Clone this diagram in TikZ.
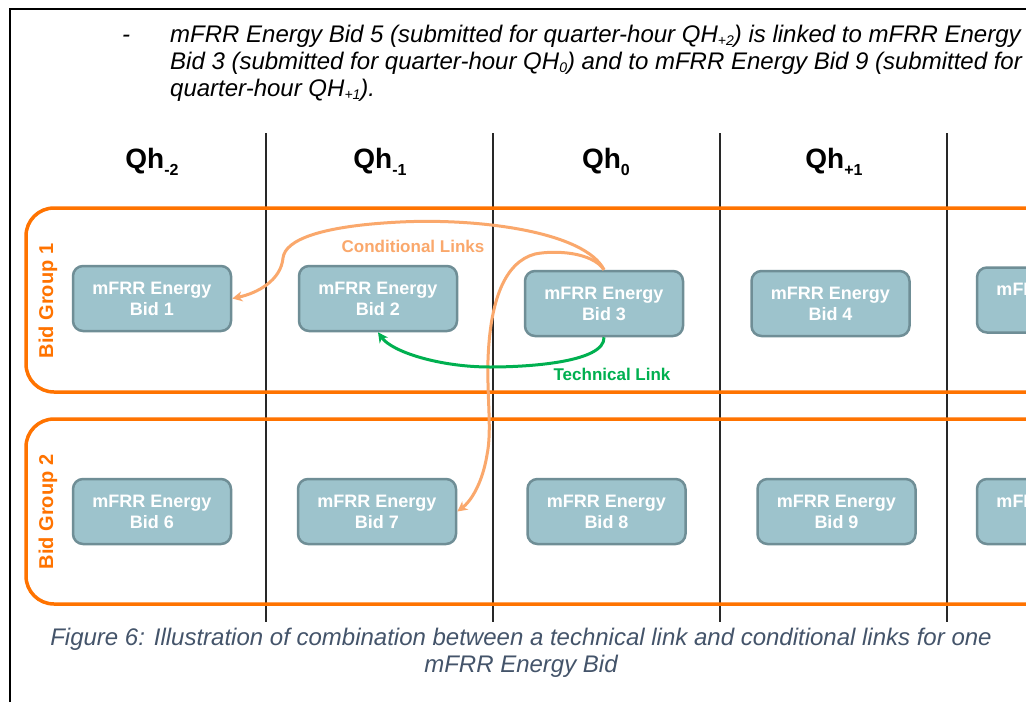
\documentclass[tikz,border=0pt]{standalone}
\usepackage{fontspec}
\setmainfont{Liberation Sans}
\usetikzlibrary{arrows.meta}
\definecolor{grporange}{RGB}{255,115,0}
\definecolor{condorange}{RGB}{250,168,108}
\definecolor{techgreen}{RGB}{0,176,80}
\definecolor{bidfill}{RGB}{157,195,204}
\definecolor{bidedge}{RGB}{111,142,150}
\definecolor{captioncol}{RGB}{68,84,106}
\definecolor{colline}{RGB}{40,40,40}
\newcommand{\myfs}[2]{\fontsize{#1}{#2}\selectfont}
\newcommand{\qhlabel}[1]{Qh\raisebox{-7pt}{\myfs{16}{16}#1}}
\newcommand{\qhsub}[1]{QH\raisebox{-3pt}{\myfs{14}{14}#1}}
\begin{document}
\begin{tikzpicture}[x=1pt,y=-1pt,
  bidbox/.style={draw=bidedge, fill=bidfill, line width=2.5pt, rounded corners=10pt,
    minimum width=158pt, minimum height=65pt, inner sep=0pt, text=white,
    font=\bfseries\myfs{18}{21}, align=center},
  grpbox/.style={draw=grporange, line width=3.5pt, rounded corners=28pt},
  grplabel/.style={text=grporange, font=\bfseries\myfs{20}{20}, rotate=90, inner sep=0pt},
  colsep/.style={draw=colline, line width=1.5pt},
  qhhead/.style={font=\bfseries\myfs{28}{28}, anchor=base, inner sep=0pt},
  condlink/.style={draw=condorange, line width=3pt, -{Stealth[length=10pt,width=10pt,inset=3pt]}},
  techlink/.style={draw=techgreen, line width=3pt, -{Stealth[length=10pt,width=10pt,inset=3pt]}},
  linklabel/.style={font=\bfseries\myfs{17}{17}, anchor=base, inner sep=0pt},
  bodytext/.style={font=\itshape\myfs{24}{24}, anchor=base west, inner sep=0pt},
  captext/.style={font=\itshape\myfs{24}{24}, text=captioncol, anchor=base, inner sep=0pt}
]
\clip (0,0) rectangle (1026,702);
\fill[white] (0,0) rectangle (1026,702);
% frame
\draw[line width=2.5pt] (10,702) -- (10,9) -- (1030,9);
% top text
\node[bodytext] (dash) at (122,42) {-};
\node[bodytext] (t1) at (170,42) {mFRR Energy Bid 5 (submitted for quarter-hour \qhsub{+2}) is linked to mFRR Energy};
\node[bodytext] (t2) at (170,69) {Bid 3 (submitted for quarter-hour \qhsub{0}) and to mFRR Energy Bid 9 (submitted for};
\node[bodytext] (t3) at (170,96) {quarter-hour \qhsub{+1}).};
% column separators
\draw[colsep] (266,133) -- (266,622);
\draw[colsep] (493,133) -- (493,622);
\draw[colsep] (720,133) -- (720,622);
\draw[colsep] (947,133) -- (947,622);
% headers
\node[qhhead] (h1) at (152,168) {\qhlabel{-2}};
\node[qhhead] (h2) at (380,168) {\qhlabel{-1}};
\node[qhhead] (h3) at (606,168) {\qhlabel{0}};
\node[qhhead] (h4) at (834,168) {\qhlabel{+1}};
% groups
\draw[grpbox] (26,208) rectangle (1120,392);
\draw[grpbox] (26,419) rectangle (1120,604);
\node[grplabel] (g1) at (48,301) {Bid Group 1};
\node[grplabel] (g2) at (48,512) {Bid Group 2};
% bids
\node[bidbox] (b1) at (152,298.5) {mFRR Energy\\Bid 1};
\node[bidbox] (b2) at (378,298.5) {mFRR Energy\\Bid 2};
\node[bidbox] (b3) at (604,303.5) {mFRR Energy\\Bid 3};
\node[bidbox] (b4) at (830.5,303.5) {mFRR Energy\\Bid 4};
\node[bidbox] (b5) at (1056,300) {mFRR Energy\\Bid 5};
\node[bidbox] (b6) at (152,511.5) {mFRR Energy\\Bid 6};
\node[bidbox] (b7) at (377,511.5) {mFRR Energy\\Bid 7};
\node[bidbox] (b8) at (606.5,511.5) {mFRR Energy\\Bid 8};
\node[bidbox] (b9) at (836.5,511.5) {mFRR Energy\\Bid 9};
\node[bidbox] (b10) at (1056,511.5) {mFRR Energy\\Bid 10};
% links
\draw[condlink] (b3.north) .. controls (585,232) and (480,218) .. (400,222)
  .. controls (320,226) and (285,240) .. (283,258)
  .. controls (281,280) and (258,293) .. (b1.east);
\draw[condlink] (b3.north) .. controls (592,252) and (555,250) .. (535,254)
  .. controls (505,262) and (490,300) .. (488,360)
  .. controls (487,400) and (492,430) .. (487,455)
  .. controls (482,485) and (470,502) .. (b7.east);
\draw[techlink] (b3.south) .. controls (605,362) and (530,367) .. (490,367)
  .. controls (440,367) and (392,352) .. (b2.south);
\node[linklabel, text=condorange] (cl) at (413,252) {Conditional Links};
\node[linklabel, text=techgreen] (tl) at (612,380) {Technical Link};
% caption
\node[captext] (c1) at (521,645) {Figure 6: Illustration of combination between a technical link and conditional links for one};
\node[captext] (c2) at (521,672) {mFRR Energy Bid};
\end{tikzpicture}
\end{document}
